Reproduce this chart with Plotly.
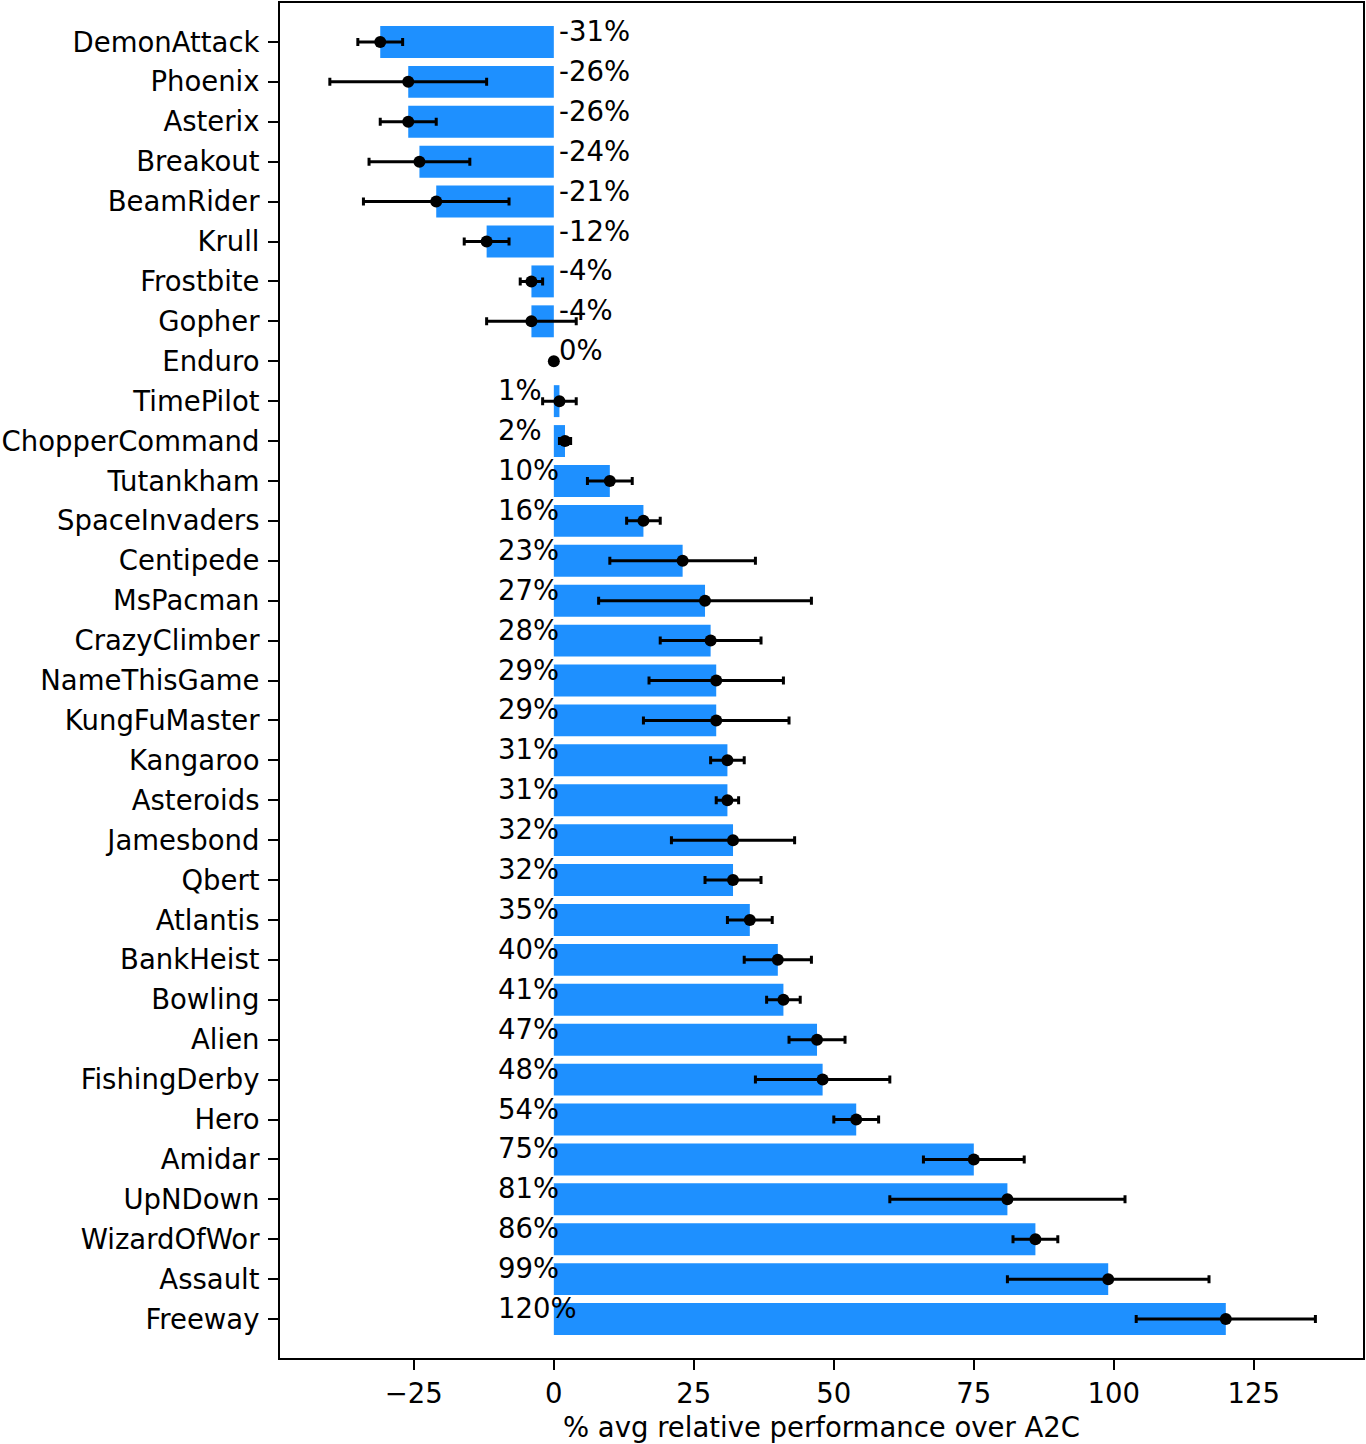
import plotly.graph_objects as go

games = ['DemonAttack', 'Phoenix', 'Asterix', 'Breakout', 'BeamRider', 'Krull',
         'Frostbite', 'Gopher', 'Enduro', 'TimePilot', 'ChopperCommand', 'Tutankham',
         'SpaceInvaders', 'Centipede', 'MsPacman', 'CrazyClimber', 'NameThisGame',
         'KungFuMaster', 'Kangaroo', 'Asteroids', 'Jamesbond', 'Qbert', 'Atlantis',
         'BankHeist', 'Bowling', 'Alien', 'FishingDerby', 'Hero', 'Amidar', 'UpNDown',
         'WizardOfWor', 'Assault', 'Freeway']

rel_perf = [-31, -26, -26, -24, -21, -12, -4, -4, 0, 1, 2, 10, 16, 23, 27, 28, 29,
            29, 31, 31, 32, 32, 35, 40, 41, 47, 48, 54, 75, 81, 86, 99, 120]

rel_err = [4, 14, 5, 9, 13, 4, 2, 8, 0, 3, 1, 4, 3, 13, 19, 9, 12,
           13, 3, 2, 11, 5, 4, 6, 3, 5, 12, 4, 9, 21, 4, 18, 16]

FONT = dict(family='DejaVu Sans', size=27.5, color='black')

fig = go.Figure()
fig.add_trace(go.Bar(x=rel_perf, y=games, orientation='h', width=0.8,
                     marker=dict(color='#1E90FF', line=dict(width=0)),
                     showlegend=False))
fig.add_trace(go.Scatter(x=rel_perf, y=games, mode='markers',
                         marker=dict(color='black', size=12),
                         error_x=dict(type='data', array=rel_err, color='black',
                                      thickness=3, width=4),
                         showlegend=False))

# percent labels: right of zero for negatives, left of zero for positives
for g, v in zip(games, rel_perf):
    fig.add_annotation(x=(1 if v <= 0 else -10), y=g, text='{}%'.format(v),
                       xanchor='left', yanchor='middle', yshift=11, xshift=-2,
                       showarrow=False, font=FONT)

fig.update_xaxes(range=[-48.9, 144.5], tickvals=[-25, 0, 25, 50, 75, 100, 125],
                 showgrid=False, zeroline=False, showline=True, linecolor='black',
                 linewidth=2, mirror=True, ticks='outside', ticklen=10, tickwidth=2,
                 tickcolor='black', tickfont=FONT,
                 title=dict(text='% avg relative performance over A2C', font=FONT,
                            standoff=10))
fig.update_yaxes(type='category', categoryorder='array', categoryarray=games,
                 range=[32.976, -0.976], showgrid=False, zeroline=False,
                 showline=True, linecolor='black', linewidth=2, mirror=True,
                 ticks='outside', ticklen=10, tickwidth=2, tickcolor='black',
                 tickfont=FONT, ticklabelstandoff=3)
fig.update_layout(width=1366, height=1444, plot_bgcolor='white', paper_bgcolor='white',
                  margin=dict(l=280, r=3, t=1, b=86), bargap=0.2)

fig.write_html("out.html", config={'displayModeBar': False},
               post_script="document.body.style.margin='0';")
